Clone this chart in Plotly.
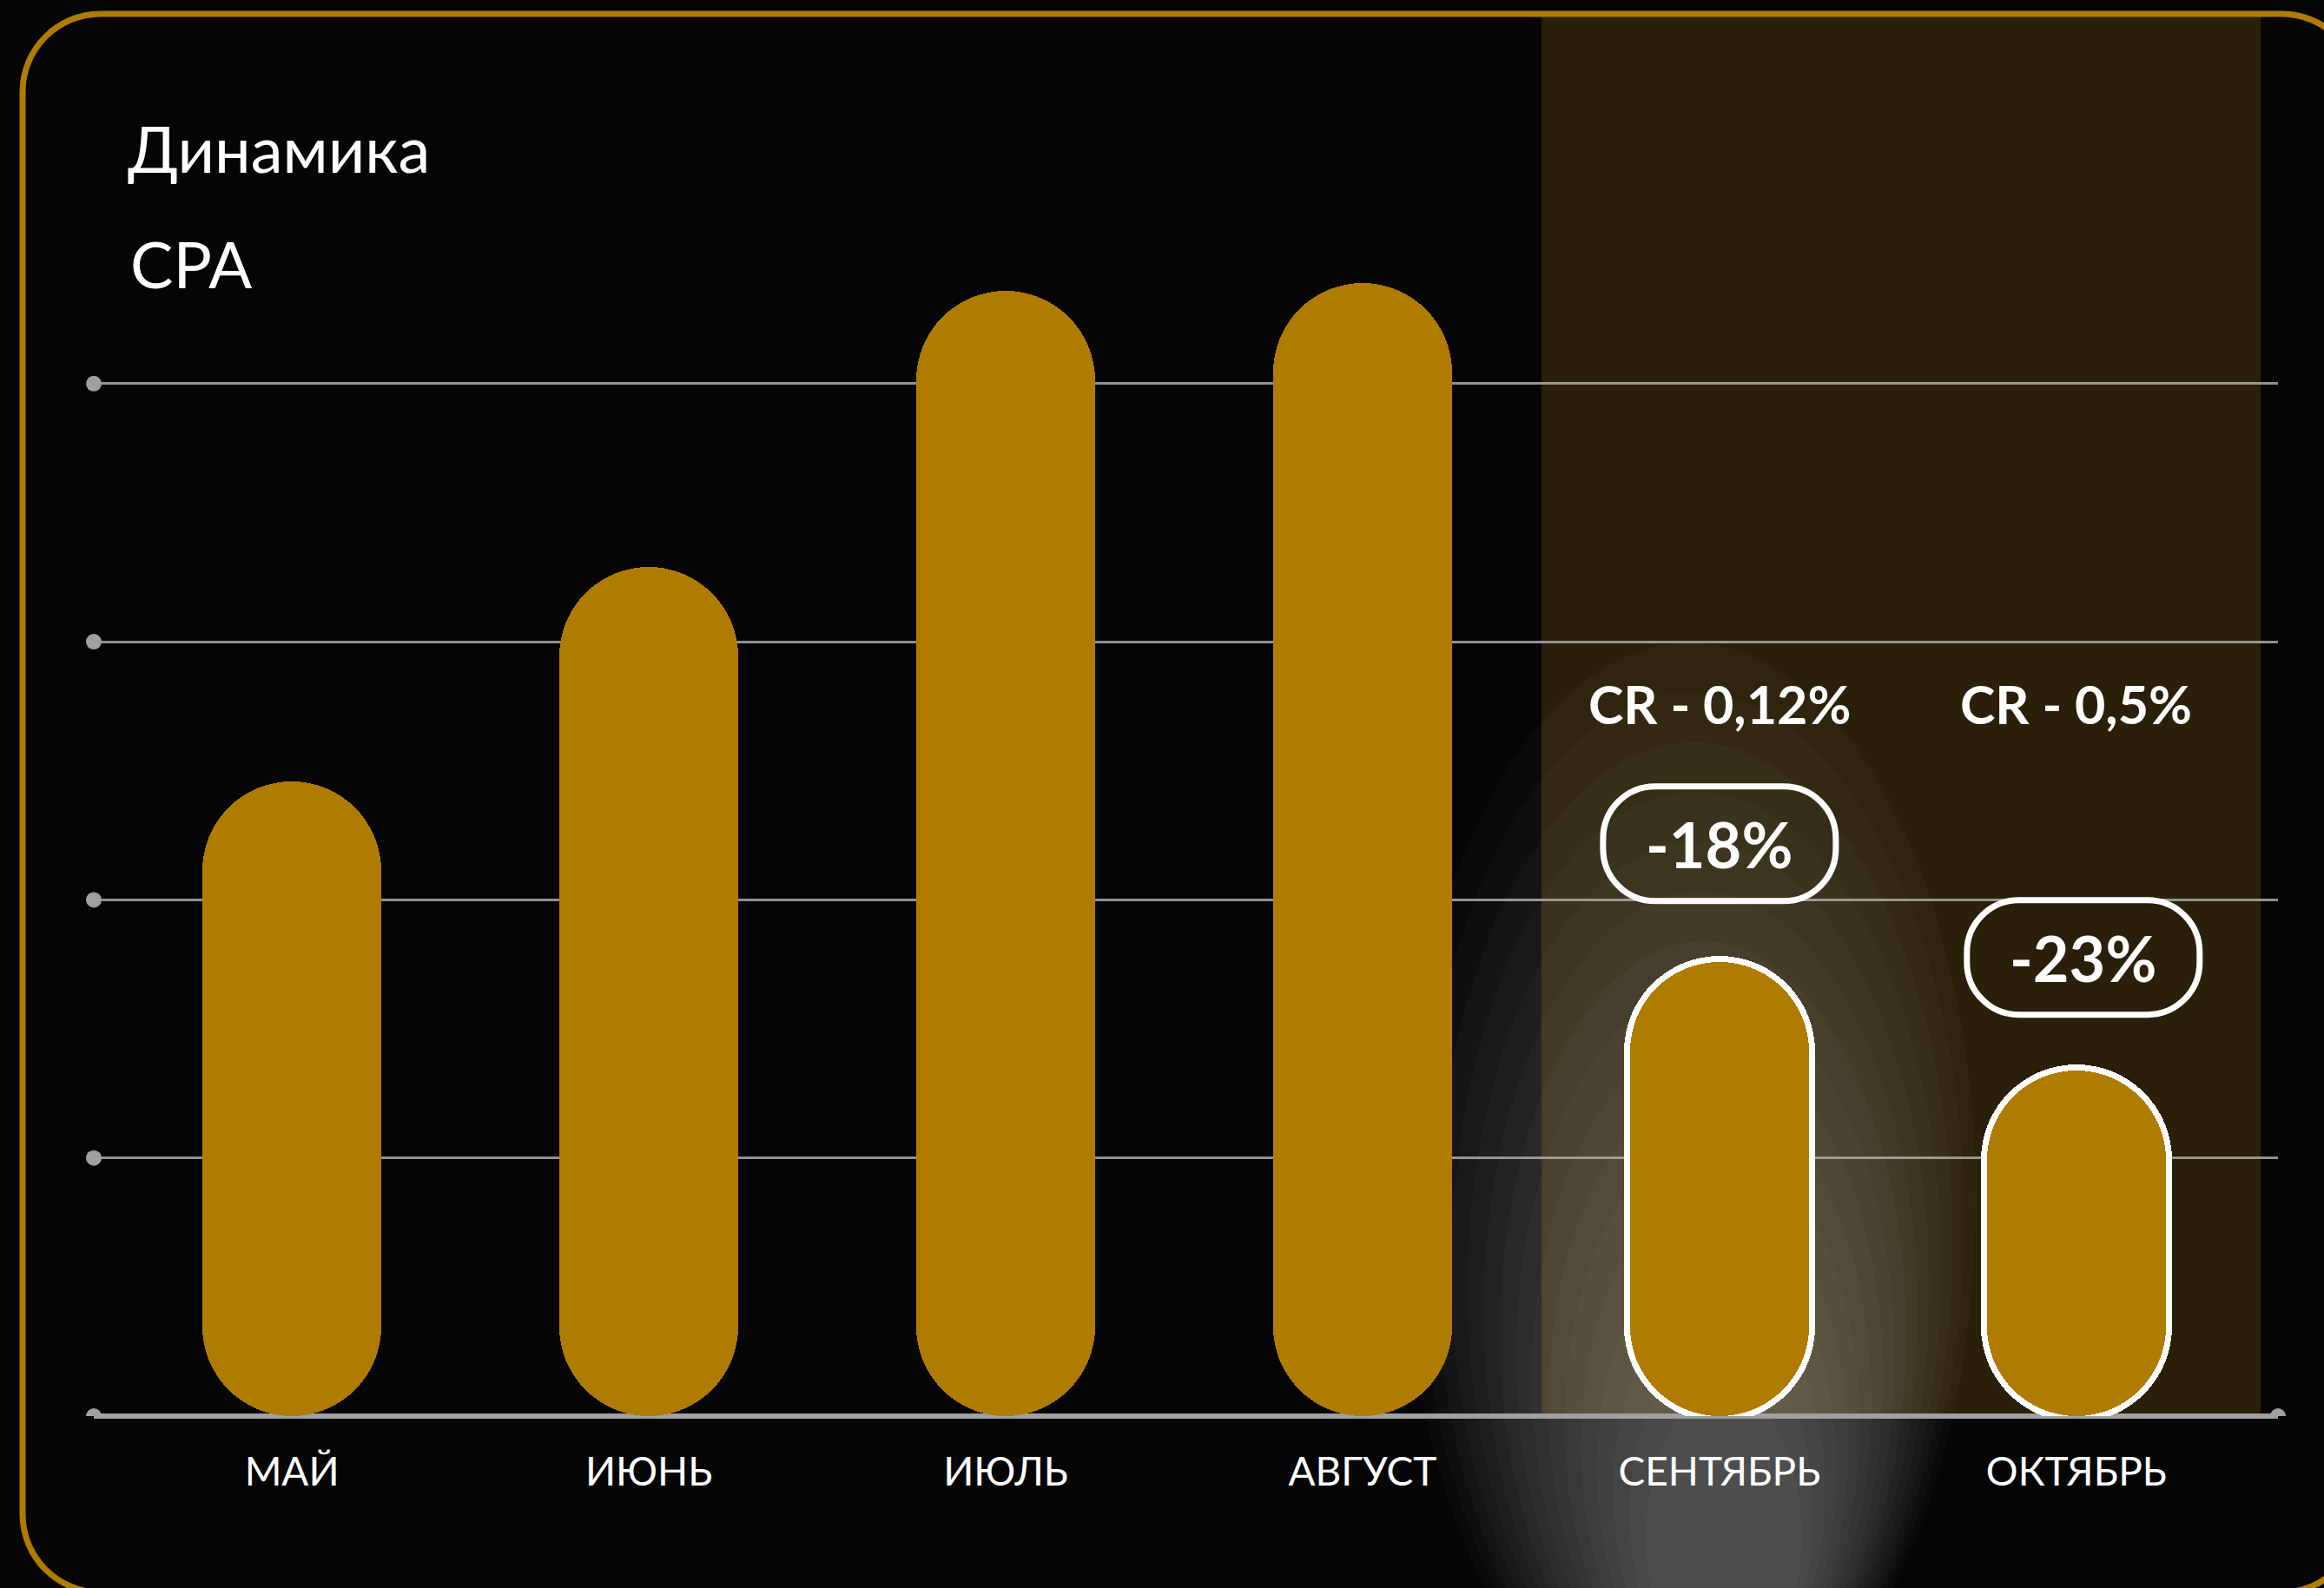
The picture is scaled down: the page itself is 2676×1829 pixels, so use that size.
import plotly.graph_objects as go

# ---------------- data ----------------
months = ["МАЙ", "ИЮНЬ", "ИЮЛЬ", "АВГУСТ", "СЕНТЯБРЬ", "ОКТЯБРЬ"]
cpa = [246, 329, 436, 439, 176, 134]
highlight = ["СЕНТЯБРЬ", "ОКТЯБРЬ"]
cr_labels = ["CR - 0,12%", "CR - 0,5%"]
change_labels = ["-18%", "-23%"]
grid_vals = [0, 100, 200, 300, 400]
title_text = "Динамика"
subtitle_text = "СРА"

# ---------------- layout geometry ----------------
W, H = 2676, 1829
L, R, T, B = 108, 53, 204, 198
PW, PH = W - L - R, H - T - B
YMAX = 480
XR = [-0.555, 5.565]
PXU = PH / YMAX  # pixels per y unit

GOLD = "#AF7B00"
BAND = "#2A1F08"
BG = "#050505"
GRID = "rgba(170,170,170,0.85)"
DOT = "#A0A0A0"
FONT = "Lato, 'Open Sans', sans-serif"


def to_paper(px, py):
    return (px - L) / PW, (H - B - py) / PH


def rrect_points(x0, y0, x1, y1, r):
    k = 0.5523 * r
    return [
        ("M", [(x0 + r, y0)]),
        ("L", [(x1 - r, y0)]),
        ("C", [(x1 - r + k, y0), (x1, y0 + r - k), (x1, y0 + r)]),
        ("L", [(x1, y1 - r)]),
        ("C", [(x1, y1 - r + k), (x1 - r + k, y1), (x1 - r, y1)]),
        ("L", [(x0 + r, y1)]),
        ("C", [(x0 + r - k, y1), (x0, y1 - r + k), (x0, y1 - r)]),
        ("L", [(x0, y0 + r)]),
        ("C", [(x0, y0 + r - k), (x0 + r - k, y0), (x0 + r, y0)]),
    ]


def path_str(points, conv):
    s = ""
    for cmd, pts in points:
        s += cmd + " " + " ".join("%.5f,%.5f" % conv(*p) for p in pts) + " "
    return s + "Z"


fig = go.Figure()

# white outlines for highlighted months (slightly larger capsules underneath)
t_units = 7 / PXU
hv = [cpa[months.index(m)] for m in highlight]
fig.add_bar(x=highlight, y=[v + 2 * t_units for v in hv], base=[-t_units for _ in hv],
            width=0.534, marker=dict(color="white", cornerradius="50%", line_width=0, opacity=1),
            cliponaxis=False, hoverinfo="skip", showlegend=False)

# gold capsules
fig.add_bar(x=months, y=cpa, base=[0 for _ in cpa],
            width=0.5, marker=dict(color=GOLD, cornerradius="50%", line_width=0, opacity=1),
            cliponaxis=False, hoverinfo="skip", showlegend=False)

shapes = []
# highlight band
bx0, by0 = to_paper(1775, 18)
bx1, by1 = to_paper(2603, 1631)
shapes.append(dict(type="rect", xref="paper", yref="paper", x0=bx0, x1=bx1, y0=by1, y1=by0,
                   fillcolor=BAND, line_width=0, layer="below"))
# soft glow (stack of faint ellipses)
N = 16
for i in range(N):
    f = i / (N - 1)
    cx = 1945 + 40 * f
    cy = 1380 + 390 * f
    rx = 330 - 240 * f
    ry = 640 - 470 * f
    ex0, ey0 = to_paper(cx - rx, cy - ry)
    ex1, ey1 = to_paper(cx + rx, cy + ry)
    shapes.append(dict(type="circle", xref="paper", yref="paper", x0=ex0, x1=ex1, y0=ey1, y1=ey0,
                       fillcolor="rgba(250,248,240,0.022)", line_width=0, layer="below"))
# rounded gold frame
shapes.append(dict(type="path", xref="paper", yref="paper",
                   path=path_str(rrect_points(26, 16, 2717, 1834, 90), to_paper),
                   line=dict(color=GOLD, width=7), fillcolor="rgba(0,0,0,0)", layer="above"))
# grid dots
for gv in grid_vals:
    shapes.append(dict(type="circle", xref="paper", yref="y", xsizemode="pixel", ysizemode="pixel",
                       xanchor=0, yanchor=gv, x0=-9, x1=9, y0=-9, y1=9,
                       fillcolor=DOT, line_width=0, layer="above"))
shapes.append(dict(type="circle", xref="paper", yref="y", xsizemode="pixel", ysizemode="pixel",
                   xanchor=1, yanchor=0, x0=-9, x1=9, y0=-9, y1=9,
                   fillcolor=DOT, line_width=0, layer="above"))

# change pills
PILL_DY = [136, 130]
PILL_DX = [0, 8]
for m, v, dx, dy in zip(highlight, hv, PILL_DX, PILL_DY):
    shapes.append(dict(type="path", xref="x", yref="y", xsizemode="pixel", ysizemode="pixel",
                       xanchor=m, yanchor=v,
                       path=path_str(rrect_points(dx - 134, dy - 66, dx + 134, dy + 66, 60),
                                     lambda a, b: (a, b)),
                       line=dict(color="white", width=7), fillcolor="rgba(0,0,0,0)", layer="above"))

annotations = [
    dict(text=title_text, xref="paper", yref="paper", x=to_paper(145, 0)[0], y=to_paper(0, 171)[1],
         xanchor="left", yanchor="middle", showarrow=False,
         font=dict(family=FONT, size=74, color="white")),
    dict(text=subtitle_text, xref="paper", yref="paper", x=to_paper(148, 0)[0], y=to_paper(0, 304)[1],
         xanchor="left", yanchor="middle", showarrow=False,
         font=dict(family=FONT, size=74, color="white")),
]
for m, lab in zip(highlight, cr_labels):
    annotations.append(dict(text=lab, x=m, y=276, xref="x", yref="y", showarrow=False,
                            xanchor="center", yanchor="middle",
                            font=dict(family=FONT, size=61, color="white", weight=700)))
for m, v, lab, dx, dy in zip(highlight, hv, change_labels, PILL_DX, PILL_DY):
    annotations.append(dict(text=lab, x=m, y=v, yshift=dy, xshift=dx, xref="x", yref="y",
                            showarrow=False, xanchor="center", yanchor="middle",
                            font=dict(family=FONT, size=72, color="white", weight=700)))

fig.update_layout(
    width=W, height=H, margin=dict(l=L, r=R, t=T, b=B, autoexpand=False),
    paper_bgcolor=BG, plot_bgcolor="rgba(0,0,0,0)",
    barmode="overlay", bargap=0, showlegend=False,
    shapes=shapes, annotations=annotations,
    xaxis=dict(type="category", categoryorder="array", categoryarray=months, range=XR,
               showgrid=False, zeroline=False, showline=False,
               ticks="", ticklabelstandoff=33, automargin=False, fixedrange=True,
               tickfont=dict(family=FONT, size=46, color="white")),
    yaxis=dict(range=[0, YMAX], tickvals=grid_vals, showticklabels=False, showgrid=True,
               gridcolor=GRID, gridwidth=3, zeroline=True, zerolinecolor=DOT, zerolinewidth=6,
               showline=False, automargin=False, fixedrange=True),
)

fig.write_html("out.html", config={"displayModeBar": False},
               post_script="document.body.style.margin='0';document.body.style.background='%s';" % BG)
